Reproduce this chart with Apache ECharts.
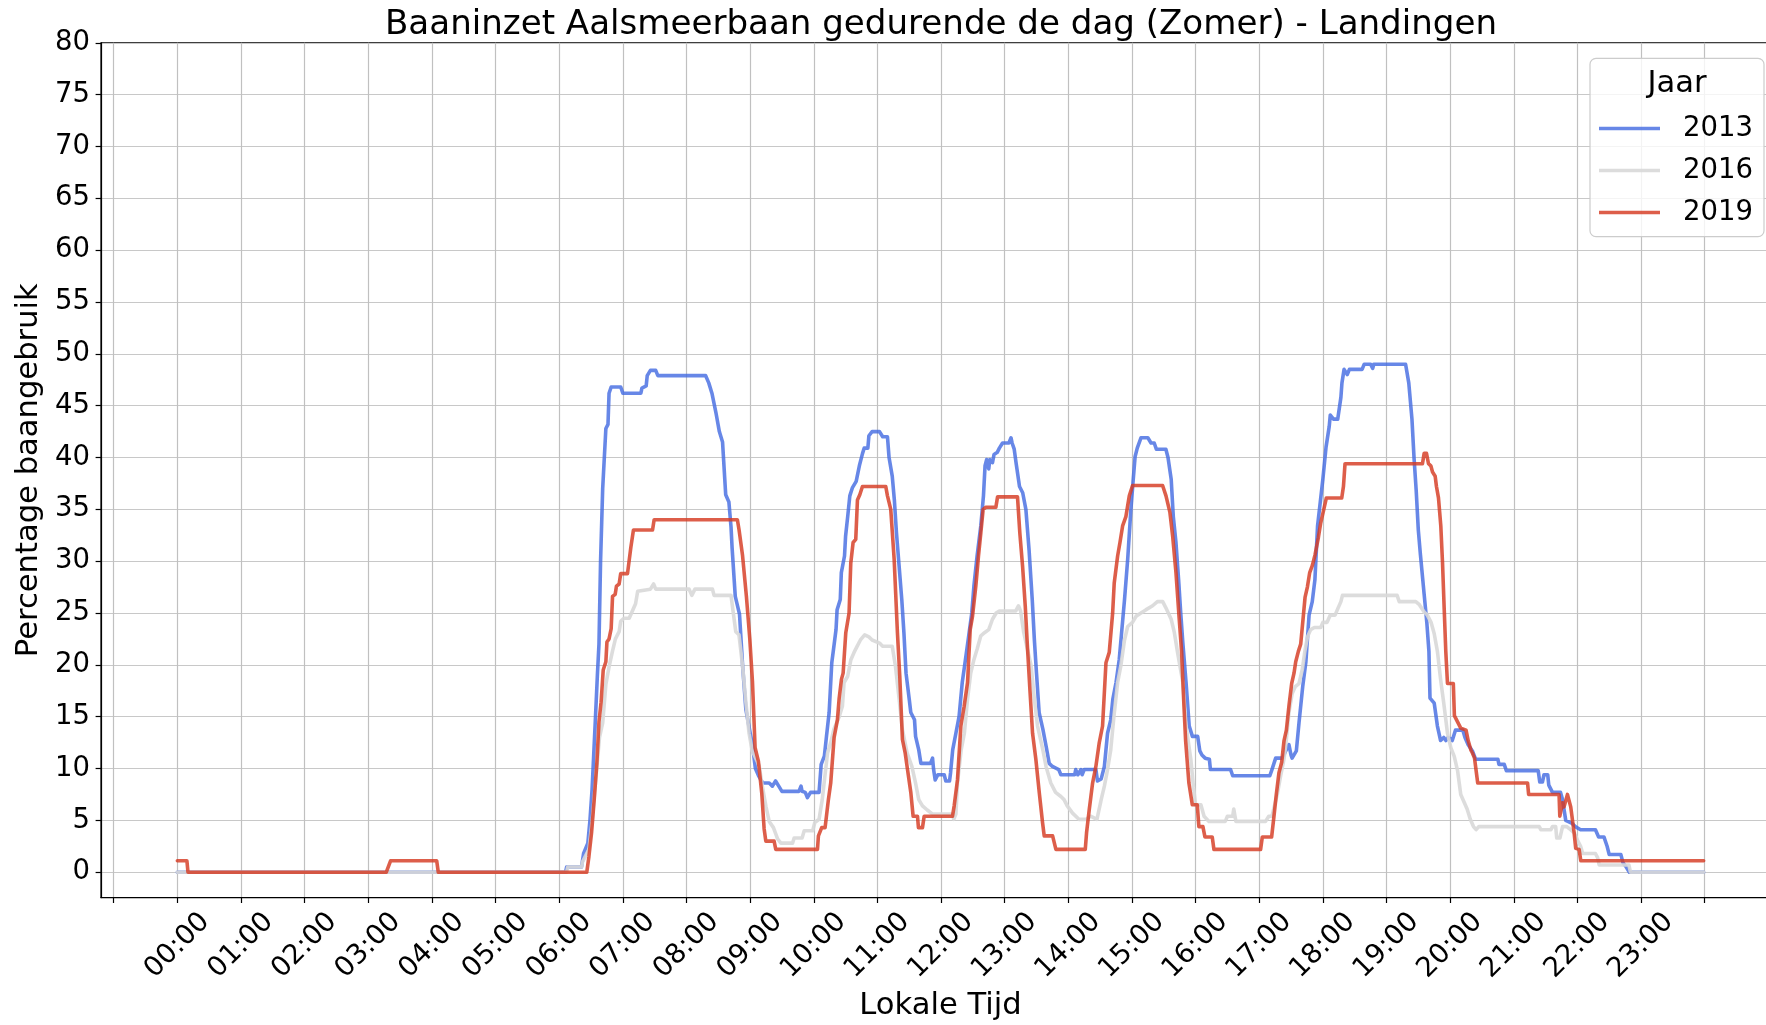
<!DOCTYPE html>
<html>
<head>
<meta charset="utf-8">
<title>Baaninzet Aalsmeerbaan</title>
<script src="https://cdn.jsdelivr.net/npm/echarts@6/dist/echarts.min.js"></script>
<style>
  html, body { margin: 0; padding: 0; background: #ffffff; overflow: hidden; }
  #chart { width: 1766px; height: 1025px; }
</style>
</head>
<body>
<div id="chart"></div>
<script>
// Legend entries (years)
const years = ['2013', '2016', '2019'];

// Hour ticks on the time axis (minutes after midnight) and their labels
const tickMinutes = [-60, 0, 60, 120, 180, 240, 300, 360, 420, 480, 540, 600, 660, 720, 780,
  840, 900, 960, 1020, 1080, 1140, 1200, 1260, 1320, 1380, 1440];
const tickLabels = ['', '00:00', '01:00', '02:00', '03:00', '04:00', '05:00', '06:00', '07:00',
  '08:00', '09:00', '10:00', '11:00', '12:00', '13:00', '14:00', '15:00', '16:00', '17:00',
  '18:00', '19:00', '20:00', '21:00', '22:00', '23:00', ''];

// Percentage ticks
const yTicks = [0, 5, 10, 15, 20, 25, 30, 35, 40, 45, 50, 55, 60, 65, 70, 75, 80];

// Runway usage (%) through the day, [minute of day, percentage]
const usage2013 = [
  [0,0],[366,0],[367,0.5],[381,0.5],[383,1.8],[387,2.8],[389,5.0],[391,8.0],[394,14.5],[396,19],
  [397.5,22],[399,30],[401,37],[404,42.8],[406,43.2],[407,46.2],[409,46.8],[418,46.8],[420,46.2],
  [437,46.2],[438,46.7],[442,46.9],[443,47.9],[446,48.4],[451,48.4],[453,47.9],[498,47.9],[501,47.2],
  [504,46.2],[508,44.2],[511,42.5],[514,41.5],[517,36.4],[520,35.7],[522,33.3],[523,31.3],[526,26.6],
  [530,24.9],[533,19.8],[536,15.7],[539,14],[542,12.4],[545,10],[548,9.3],[552,8.6],[558,8.6],
  [561,8.3],[564,8.8],[567,8.3],[570,7.8],[586,7.8],[588,8.3],[589,7.8],[592,7.7],[594,7.2],
  [597,7.7],[605,7.7],[607,10.4],[610,11.2],[612,13.1],[614.5,15.4],[617,20.2],[619,21.8],[621,23.4],
  [622,25.3],[625,26.3],[626,28.9],[629,30.5],[630,32.4],[632,34.3],[634,36.3],[636.5,37.1],[640,37.7],
  [643,39.2],[646,40.4],[647.5,40.9],[651,40.9],[652,42.1],[655,42.5],[662,42.5],[665,42],[669.5,42],
  [671,40],[674,38.2],[676,35.9],[678,32.7],[680.5,29.5],[683,26.3],[685,23.1],[687,19.2],[690,16.7],
  [691.5,15.4],[695,14.7],[696,13.1],[699,11.8],[701,10.5],[710,10.5],[712,11],[713,9.9],[714.5,8.9],
  [717,9.4],[723,9.4],[724.5,8.8],[728,8.8],[729,9.6],[731,11.8],[734,13.4],[737,15],[740,18.3],
  [743,20.5],[746.5,23.1],[749,25],[751,27.6],[754,30.5],[757.5,33.4],[760,36.3],[761.5,39.2],[763,39.8],
  [765,38.9],[766,39.8],[768.5,39.5],[770,40.3],[773,40.5],[775,40.9],[778,41.4],[784,41.4],[786,41.9],
  [787,41.4],[789,40.8],[791,39.3],[794,37.2],[797,36.6],[800,35],[803,31.1],[806,26.3],[808,22.4],
  [810,19.2],[812.5,15.4],[816,13.8],[819,12.2],[822,10.5],[825,10.2],[831,9.9],[833,9.4],[846,9.4],
  [847,9.9],[849,9.4],[852,9.9],[853,9.4],[855,9.9],[866,9.9],[867.5,8.8],[871,9],[874,10.2],
  [877,13.4],[880,14.7],[882,16.7],[885,18.3],[888,20.5],[890.5,23.4],[893,26.3],[896,30.2],[899,35],
  [901,37.6],[903,40.1],[905,40.9],[908.5,41.9],[915,41.9],[918,41.4],[921,41.4],[923,40.8],[932,40.8],
  [934,40],[937,37.9],[939,34.3],[941.5,31.8],[944,28.2],[946,25],[948,22.1],[951,18.3],[954,14.1],
  [957,13.1],[962,13.1],[964,11.7],[966,11.3],[969,11],[973,10.9],[974,9.9],[993,9.9],[995,9.3],
  [1030,9.3],[1032,9.9],[1035.5,11],[1042,11],[1045,11.7],[1048,12.3],[1050,11.3],[1051,11],[1055,11.7],
  [1057.5,14.4],[1061,17.9],[1064,20.3],[1067,24.8],[1070,26.1],[1072.5,28.2],[1075,33.4],[1078,36.1],
  [1080,37.9],[1083,41],[1086,43],[1087,44.1],[1090,43.7],[1094,43.7],[1097,45.8],[1098,47.2],[1100,48.5],
  [1103,48],[1105,48.5],[1117,48.5],[1119,49],[1125,49],[1127,48.6],[1128,49],[1158,49],[1161,47.2],
  [1164,43.7],[1166,39.9],[1168,36.8],[1170,33],[1172,30.6],[1175.5,26.8],[1178,24.1],[1180,21.3],
  [1181,16.8],[1185,16.3],[1188,14.1],[1191,12.7],[1194,13],[1196,12.7],[1198,13],[1202,12.7],
  [1205,13.7],[1212,13.7],[1214,13],[1217,12.3],[1221,11.7],[1224,10.9],[1245,10.9],[1246,10.4],
  [1251,10.4],[1253,9.8],[1283,9.8],[1284.5,8.7],[1287,8.7],[1288.5,9.4],[1292,9.4],[1293,8.4],
  [1296.5,7.7],[1304,7.7],[1306,7],[1307,6.3],[1309,5],[1315,4.7],[1318,4.4],[1323,4.1],[1337,4.1],
  [1340,3.4],[1345,3.4],[1348,2.5],[1350,1.7],[1361,1.7],[1363,0.9],[1366,0.5],[1369,0],[1439,0]
];

const usage2016 = [
  [0,0],[367,0],[368,0.5],[381,0.5],[382,1.0],[388,2.2],[391,4.9],[394.5,9],[398,13],[401,14.4],
  [404,18.1],[407,19.8],[410,21.2],[413,22.5],[416.5,23.2],[418,24.2],[421,24.5],[426,24.5],[429,25.2],
  [432,25.9],[434,27.1],[446,27.3],[449,27.8],[451,27.3],[482.5,27.3],[485,26.7],[488,27.3],[504.5,27.3],
  [506,26.7],[522,26.7],[523,25.9],[526.5,23.2],[529.5,22.9],[533,19.8],[536,16.4],[539,13.4],[542,11.7],
  [548.5,10.3],[551.5,8.3],[555,6.3],[558,4.9],[562,4.3],[566,3.2],[569,2.8],[580,2.8],[581.5,3.3],
  [589,3.3],[591,4.0],[599,4.0],[601,4.8],[605,5.1],[608,7],[613,11.5],[616,12.5],[619,13.8],[624,15],
  [627,16],[628.6,18.3],[632,18.9],[635,20.5],[638,21.2],[641,21.8],[644,22.4],[648,22.9],[652,22.7],
  [655,22.4],[662,22.1],[665,21.8],[674,21.8],[677,19.9],[680.5,16.7],[683.5,13.8],[688,11.5],
  [692.5,10.2],[696,8.6],[699,7],[702.5,6.4],[707,6],[712,5.6],[731,5.6],[732,5.1],[734,5.6],
  [735.5,8.6],[739,11.8],[742,13.4],[745,16.7],[748,19.2],[751,20.5],[754,21.5],[757.5,22.8],[761,23.1],
  [765,23.4],[768.5,24.4],[772,25],[775,25.2],[790.5,25.2],[793,25.7],[795,25.2],[798,23.1],[801.5,21.5],
  [805,19.9],[808,16.7],[811,14.1],[816,11.8],[819,10.2],[823.5,8.6],[828,7.7],[833,7.3],[836,7],
  [839,6.4],[844,5.7],[850,5.1],[857,5.1],[861,5.4],[867,5.1],[871,7],[874,8.3],[877,9.9],[880,11.8],
  [883,15],[886.5,18.3],[889.5,19.9],[893,22.4],[896,23.7],[900.5,24.1],[904,24.7],[908.5,25],
  [913,25.3],[919.5,25.7],[924,26.1],[929,26.1],[932,25.5],[937,24.4],[940,23.1],[943,21.2],[948,18.3],
  [951,14.1],[955.5,10.9],[958,8.2],[960,6.5],[965,6.5],[968,5.4],[972.6,4.9],[988,4.9],[990,5.4],
  [995,5.4],[996,6.1],[998,4.9],[1026,4.9],[1029,5.4],[1032,5.4],[1037,7.5],[1040,9.2],[1043.5,11],
  [1045.5,12.7],[1048,15.4],[1051,17.2],[1054,17.9],[1057.5,18.2],[1060.7,19.6],[1063,21.3],
  [1065.5,22.7],[1068.5,23.4],[1072,23.6],[1078,23.6],[1080,24.1],[1084,24.1],[1087,24.8],[1091.5,24.8],
  [1094,25.4],[1097,26.1],[1098.5,26.7],[1150,26.7],[1152,26.1],[1167.6,26.1],[1171,25.8],[1175.5,25.1],
  [1178.5,24.8],[1182,24.1],[1185,23],[1188,21.3],[1191,18.6],[1194,16.3],[1197.5,13.4],[1200.7,12],
  [1203.8,11.2],[1207,9.8],[1210,7.5],[1213,6.8],[1216,6.1],[1219,5.1],[1222,4.4],[1224.5,4.1],
  [1227,4.4],[1284,4.4],[1285.5,4.1],[1295,4.1],[1296.5,4.4],[1299.5,4.4],[1300.5,3.3],[1303.5,3.3],
  [1306,4.4],[1310,4.4],[1313.5,4.1],[1317,3.8],[1320,3.1],[1323,2.5],[1325,1.8],[1337,1.8],[1339,1.4],
  [1340.5,0.7],[1368.5,0.7],[1370,0],[1439,0]
];

const usage2019 = [
  [0,1.1],[9,1.1],[10,0],[197,0],[201,1.1],[244.5,1.1],[246,0],[386,0],[388,1.5],[390.5,3.8],[393,7],
  [395.5,10.5],[397.5,14.5],[399.5,16.4],[401.5,19.5],[404,20.3],[405,22.2],[407,22.5],[409,23.5],
  [410.3,26.6],[412.8,26.8],[414,27.6],[416.5,27.8],[418,28.8],[424.4,28.8],[427.5,31.3],[430,33],
  [448,33],[449.5,34],[528,34],[529.6,33],[532.8,30.6],[536.5,26.6],[539.7,22.5],[542.2,18.4],
  [544.7,12],[547.8,10.7],[551,7.6],[553.2,4.2],[554.8,3],[562.6,3],[564.2,2.2],[603.5,2.2],[604.4,3.5],
  [607.5,4.3],[610.7,4.3],[613.8,7],[616,8.6],[619.2,13],[622.3,14.7],[623.9,16.7],[626.1,18.6],
  [627.7,19.2],[630.2,23.1],[633.3,25],[634.9,29.8],[637.1,31.8],[639.6,32.1],[641.2,35.9],[643.4,36.4],
  [645.9,37.2],[667.9,37.2],[669.5,36.3],[672.6,35],[675.8,30.2],[678.9,23.1],[681.1,18.9],[683.6,12.8],
  [686.2,11.5],[688.4,9.9],[691.5,7.7],[693.7,5.4],[697.8,5.4],[698.7,4.3],[702.5,4.3],[704.1,5.4],
  [730.8,5.4],[732.4,6.4],[735.5,8.9],[738.7,14.1],[741.8,16],[745,18.3],[747.5,23.4],[749.7,24.7],
  [752.8,27.6],[755.3,30.5],[757.5,32.7],[759.7,35],[762.3,35.2],[771.7,35.2],[773.3,36.2],[792.1,36.2],
  [794.3,32.7],[796.9,29.5],[799.4,25.7],[801.6,21.5],[803.8,17.6],[806.3,13.4],[809.4,10.9],[812.6,7.7],
  [815.7,4.8],[817.3,3.5],[825.2,3.5],[828.3,2.2],[856,2.2],[857.2,3.8],[859.7,6],[862.9,8.6],[866,10.2],
  [869.2,12.5],[872.3,14.1],[875.5,20.2],[878.6,21.2],[881.8,25],[883.3,27.9],[886.5,30.5],[888.7,31.8],
  [891.2,33.4],[894.3,34.3],[897.5,36.3],[900.6,37.3],[928.9,37.3],[932.1,36.3],[935.8,34.7],
  [938.4,32.4],[941.5,28.9],[944.3,24.8],[946.8,21.3],[949,16.1],[950.6,12.7],[953.7,8.6],[956.9,6.5],
  [961.6,6.5],[963.1,4.4],[966.9,4.4],[968.8,3.4],[975.7,3.4],[977.3,2.2],[1021.3,2.2],[1022.9,3.4],
  [1031.7,3.4],[1033.9,5.4],[1036.1,7.5],[1038.6,9.6],[1041.2,10.6],[1043.4,12.7],[1045.6,13.7],
  [1048.1,16.1],[1050.6,18.2],[1052.8,19.2],[1054.4,20.3],[1056.9,21.3],[1059.1,22],[1061.3,24.4],
  [1063.2,26.5],[1065.4,27.5],[1067.6,28.9],[1070.1,29.6],[1072.6,30.6],[1075.8,32.3],[1078,33.7],
  [1081.1,35.1],[1083.3,36.1],[1097.8,36.1],[1099.4,37.2],[1100.9,39.4],[1173.9,39.4],[1175.5,40.4],
  [1177.7,40.4],[1179.6,39.4],[1181.8,39.2],[1183.4,38.6],[1185.9,38.2],[1187.1,37.2],[1189,36.1],
  [1191.2,33.4],[1192.8,29.9],[1194.4,25.4],[1195.9,21.3],[1197.5,18.2],[1203,18.2],[1204,15.1],
  [1207,14.5],[1210,13.9],[1215,13.7],[1217,12.7],[1219.5,11.8],[1221,11.5],[1223,11],[1226,8.6],
  [1273,8.6],[1274,7.5],[1302.7,7.5],[1303.4,5.4],[1306,6.7],[1307.4,6.3],[1310.6,7.5],[1313.7,6.3],
  [1316.9,3.8],[1318.4,2.3],[1321.6,2.2],[1323.2,1.1],[1439,1.1]
];

const seriesData = [usage2013, usage2016, usage2019];
const lineColors = ['rgba(65,105,225,0.8)', 'rgba(216,216,216,0.9)', 'rgba(214,58,34,0.82)'];

const FONT = '"DejaVu Sans", sans-serif';
const chart = echarts.init(document.getElementById('chart'), null, { renderer: 'canvas' });

const labelFor = v => {
  const i = tickMinutes.indexOf(Math.round(v));
  return i >= 0 ? tickLabels[i] : '';
};

const option = {
  animation: false,
  backgroundColor: '#ffffff',
  textStyle: { fontFamily: FONT },
  title: {
    text: 'Baaninzet Aalsmeerbaan gedurende de dag (Zomer) - Landingen',
    left: 941,
    textAlign: 'center',
    top: 8,
    padding: 0,
    textStyle: { fontFamily: FONT, fontSize: 34.1, fontWeight: 'normal', color: '#000' }
  },
  grid: {
    left: 101,
    top: 42.8,
    width: 1679,
    height: 854.8,
    show: true,
    borderColor: '#000',
    borderWidth: 1.2,
    backgroundColor: 'transparent',
    containLabel: false,
    outerBoundsMode: 'none'
  },
  legend: {
    data: years,
    orient: 'vertical',
    left: 1599,
    top: 114.5,
    icon: 'rect',
    itemWidth: 61,
    itemHeight: 3.6,
    itemGap: 14,
    padding: 0,
    z: 20,
    textStyle: { fontFamily: FONT, fontSize: 27.5, color: '#000', padding: [0, 0, 0, 18] }
  },
  graphic: [
    {
      type: 'rect', z: 15, silent: true,
      shape: { x: 1590, y: 58.3, width: 174, height: 178.4, r: 6 },
      style: { fill: 'rgba(255,255,255,0.8)', stroke: '#cccccc', lineWidth: 1.2 }
    },
    {
      type: 'text', z: 16, silent: true,
      x: 1677, y: 84.5,
      style: { text: 'Jaar', fontFamily: FONT, fontSize: 30.6, fill: '#000',
               textAlign: 'center', textVerticalAlign: 'middle' }
    }
  ],
  xAxis: {
    type: 'value',
    min: -72,
    max: 1511,
    name: 'Lokale Tijd',
    nameLocation: 'middle',
    nameGap: 107,
    nameTextStyle: { fontFamily: FONT, fontSize: 30.6, color: '#000', verticalAlign: 'middle' },
    axisLine: { show: true, onZero: false, lineStyle: { color: '#000', width: 1.2 } },
    axisTick: { show: true, length: 5.4, customValues: tickMinutes, lineStyle: { color: '#000', width: 1.2 } },
    axisLabel: {
      customValues: tickMinutes,
      formatter: labelFor,
      rotate: 45,
      align: 'center',
      verticalAlign: 'middle',
      margin: 48,
      fontFamily: FONT,
      fontSize: 27.5,
      color: '#000',
      hideOverlap: false
    },
    splitLine: { show: true, lineStyle: { color: '#c0c0c0', width: 1.2 } }
  },
  yAxis: {
    type: 'value',
    min: -2.45,
    max: 80,
    name: 'Percentage baangebruik',
    nameLocation: 'middle',
    nameRotate: 90,
    nameGap: 70,
    nameTextStyle: { fontFamily: FONT, fontSize: 30.6, color: '#000', verticalAlign: 'middle' },
    axisLine: { show: true, onZero: false, lineStyle: { color: '#000', width: 1.2 } },
    axisTick: { show: true, length: 5.4, customValues: yTicks, lineStyle: { color: '#000', width: 1.2 } },
    axisLabel: {
      customValues: yTicks,
      margin: 11,
      fontFamily: FONT,
      fontSize: 27.5,
      color: '#000'
    },
    splitLine: { show: true, lineStyle: { color: '#c8c8c8', width: 1.2 } }
  },
  series: years.map((y, i) => ({
    name: y,
    type: 'line',
    data: seriesData[i],
    showSymbol: false,
    symbol: 'none',
    z: 3 + i,
    color: lineColors[i],
    lineStyle: { color: lineColors[i], width: 3.6, join: 'round', cap: 'round' },
    emphasis: { disabled: true }
  }))
};

chart.setOption(option);
</script>
</body>
</html>
